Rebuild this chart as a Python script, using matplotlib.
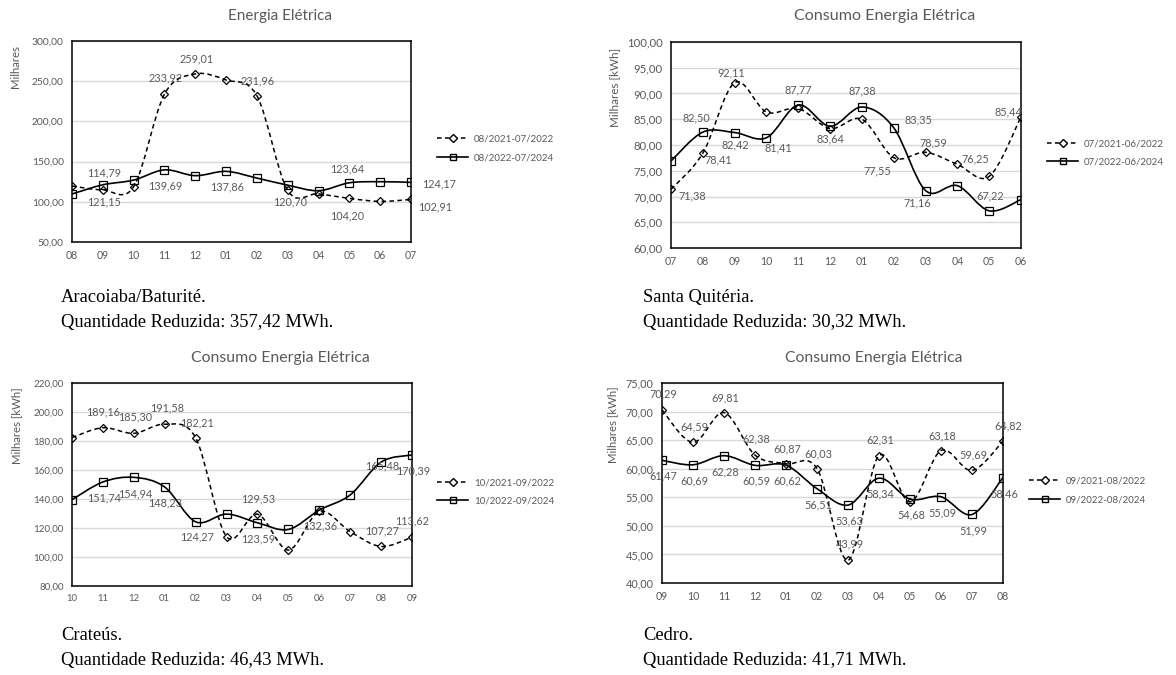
import numpy as np
import matplotlib
matplotlib.use("Agg")
import matplotlib.pyplot as plt
from matplotlib.path import Path
from matplotlib.patches import PathPatch
from matplotlib.lines import Line2D

plt.rcParams['font.family'] = ['Lato', 'DejaVu Sans']

# ---- data ----
months_1 = ['08', '09', '10', '11', '12', '01', '02', '03', '04', '05', '06', '07']
aracoiaba_old = [119.6, 114.79, 118.8, 233.92, 259.01, 251.5, 231.96, 114.2, 110.0, 104.20, 100.5, 102.91]
aracoiaba_new = [109.7, 121.15, 127.0, 139.69, 132.5, 137.86, 129.5, 120.70, 113.8, 123.64, 125.0, 124.17]

months_2 = ['07', '08', '09', '10', '11', '12', '01', '02', '03', '04', '05', '06']
quiteria_old = [71.38, 78.41, 92.11, 86.4, 87.1, 83.2, 85.0, 77.55, 78.59, 76.25, 73.9, 85.44]
quiteria_new = [76.9, 82.50, 82.42, 81.41, 87.77, 83.64, 87.38, 83.35, 71.16, 72.1, 67.22, 69.4]

months_3 = ['10', '11', '12', '01', '02', '03', '04', '05', '06', '07', '08', '09']
crateus_old = [182.4, 189.16, 185.30, 191.58, 182.21, 114.0, 129.53, 104.8, 131.4, 117.5, 107.27, 113.62]
crateus_new = [139.5, 151.74, 154.94, 148.23, 124.27, 129.6, 123.59, 119.0, 132.36, 142.8, 165.48, 170.39]

months_4 = ['09', '10', '11', '12', '01', '02', '03', '04', '05', '06', '07', '08']
cedro_old = [70.29, 64.59, 69.81, 62.38, 60.87, 60.03, 43.99, 62.31, 54.2, 63.18, 59.69, 64.82]
cedro_new = [61.47, 60.69, 62.28, 60.59, 60.62, 56.51, 53.63, 58.34, 54.68, 55.09, 51.99, 58.46]

# which points carry a data label (index -> label offset in pixels, up positive)
lab1_old = {1: (1, 17), 3: (1, 16), 4: (1, 15), 6: (1, 15), 9: (-2, -17), 11: (24, -7)}
lab1_new = {1: (1, -17), 3: (1, -16), 5: (1, -16), 7: (2, -17), 9: (-2, 14), 11: (28, -2)}
lab2_old = {0: (21, -7), 1: (15, -7), 2: (-3, 10), 7: (-16, -13), 8: (8, 9), 9: (18, 5), 11: (-13, 5)}
lab2_new = {1: (-6, 14), 2: (1, -12), 3: (12, -10), 4: (0, 15), 5: (0, -13), 6: (0, 16),
            7: (25, 8), 8: (-8, -12), 10: (1, 15)}
lab3_old = {1: (0, 16), 2: (1, 16), 3: (2, 16), 4: (1, 15), 6: (1, 15), 10: (1, 16), 11: (0, 16)}
lab3_new = {1: (1, -16), 2: (1, -17), 3: (0, -16), 4: (1, -15), 6: (1, -16), 8: (1, -16),
            10: (1, -4), 11: (1, -16)}
lab4_old = {0: (1, 16), 1: (1, 16), 2: (1, 15), 3: (1, 16), 4: (1, 15), 5: (1, 15), 6: (2, 16),
            7: (1, 16), 9: (1, 15), 10: (1, 16), 11: (5, 15)}
lab4_new = {i: (1, -16) for i in range(12)}

GRAY = '#595959'
W, H = 1176, 675


def fx(px):
    return px / W


def fy(py):
    return 1 - py / H


def smooth_path(x, y):
    # excel-like smoothed line (catmull-rom as cubic bezier)
    P = np.column_stack([x, y]).astype(float)
    n = len(P)
    verts = [P[0]]
    codes = [Path.MOVETO]
    for i in range(n - 1):
        p0 = P[i - 1] if i > 0 else P[i]
        p1, p2 = P[i], P[i + 1]
        p3 = P[i + 2] if i + 2 < n else P[i + 1]
        verts += [p1 + (p2 - p0) / 6, p2 - (p3 - p1) / 6, p2]
        codes += [Path.CURVE4] * 3
    return Path(verts, codes)


def fmt(v):
    return f"{v:.2f}".replace('.', ',')


def draw_panel(box, months, old, new, lab_old, lab_new, ylim, ystep, title, title_xy,
               ylabel, ylabel_xy, leg_names, leg_xy, caption, cap_x, cap_y,
               ytick_fs, xtick_fs, ylab_fs, title_fs):
    l, r, t, b = box
    ax = fig.add_axes([fx(l), fy(b), fx(r) - fx(l), fy(t) - fy(b)])
    x = np.arange(len(months))
    dash = (0, (3, 2.2))
    ax.add_patch(PathPatch(smooth_path(x, old), fill=False, ec='black', lw=1.1, ls=dash, zorder=3))
    ax.add_patch(PathPatch(smooth_path(x, new), fill=False, ec='black', lw=1.2, zorder=3))
    ax.plot(x, old, ls='none', marker='D', ms=4.5, mfc='none', mec='black', mew=0.9, zorder=4)
    ax.plot(x, new, ls='none', marker='s', ms=5.2, mfc='none', mec='black', mew=0.9, zorder=4)

    for vals, labs in ((old, lab_old), (new, lab_new)):
        for i, (dx, dy) in labs.items():
            ax.annotate(fmt(vals[i]), (x[i], vals[i]), xytext=(dx, dy), textcoords='offset pixels',
                        ha='center', va='center', fontsize=7.8, color=GRAY, zorder=5,
                        annotation_clip=False)

    ax.set_xlim(0, len(months) - 1)
    ax.set_ylim(*ylim)
    yt = np.arange(ylim[0], ylim[1] + ystep / 2, ystep)
    ax.set_yticks(yt)
    ax.set_yticklabels([fmt(v) for v in yt], fontsize=ytick_fs, color=GRAY)
    ax.set_xticks(x)
    ax.set_xticklabels(months, fontsize=xtick_fs, color=GRAY)
    ax.tick_params(length=0, pad=6)
    ax.grid(axis='y', color='#d9d9d9', lw=1)
    ax.set_axisbelow(True)
    for s in ax.spines.values():
        s.set_linewidth(1.1)
        s.set_color('black')

    fig.text(fx(title_xy[0]), fy(title_xy[1]), title, ha='center', va='center',
             fontsize=title_fs, color=GRAY)
    fig.text(fx(ylabel_xy[0]), fy(ylabel_xy[1]), ylabel, rotation=90, ha='center', va='center',
             fontsize=ylab_fs, color=GRAY)

    handles = [Line2D([], [], color='black', lw=1.1, ls=dash, marker='D', ms=3.6, mfc='white', mec='black'),
               Line2D([], [], color='black', lw=1.2, marker='s', ms=4.5, mfc='none', mec='black')]
    fig.legend(handles, leg_names, loc='center left', bbox_to_anchor=(fx(leg_xy[0]), fy(leg_xy[1])),
               frameon=False, fontsize=7, labelcolor=GRAY, handlelength=3.2, handletextpad=0.6,
               labelspacing=1.0, borderpad=0, borderaxespad=0)

    for k, line in enumerate(caption):
        fig.text(fx(cap_x), fy(cap_y[k]), line, ha='left', va='baseline', fontsize=13.3,
                 family='Liberation Serif', color='black')
    return ax


fig = plt.figure(figsize=(W / 100, H / 100), dpi=100)

draw_panel((72, 411, 41, 242), months_1, aracoiaba_old, aracoiaba_new, lab1_old, lab1_new,
           (50, 300), 50, 'Energia Elétrica', (280, 16), 'Milhares', (15, 66),
           ['08/2021-07/2022', '08/2022-07/2024'], (437, 148.5),
           ['Aracoiaba/Baturité.', 'Quantidade Reduzida: 357,42 MWh.'], 61, (302, 327),
           7.4, 7.6, 8.2, 11.0)

draw_panel((671, 1021, 42, 248), months_2, quiteria_old, quiteria_new, lab2_old, lab2_new,
           (60, 100), 5, 'Consumo Energia Elétrica', (885, 16), 'Milhares [kWh]', (615, 87),
           ['07/2021-06/2022', '07/2022-06/2024'], (1047, 153),
           ['Santa Quitéria.', 'Quantidade Reduzida: 30,32 MWh.'], 643, (302, 327),
           8.2, 7.6, 8.4, 11.6)

draw_panel((72, 412, 383, 586), months_3, crateus_old, crateus_new, lab3_old, lab3_new,
           (80, 220), 20, 'Consumo Energia Elétrica', (280, 358), 'Milhares [kWh]', (17, 426),
           ['10/2021-09/2022', '10/2022-09/2024'], (437, 492),
           ['Crateús.', 'Quantidade Reduzida: 46,43 MWh.'], 61, (640, 665),
           7.0, 6.8, 8.2, 11.4)

draw_panel((662, 1003, 383, 583), months_4, cedro_old, cedro_new, lab4_old, lab4_new,
           (40, 75), 5, 'Consumo Energia Elétrica', (874, 358), 'Milhares [kWh]', (613, 425),
           ['09/2021-08/2022', '09/2022-08/2024'], (1029, 490.5),
           ['Cedro.', 'Quantidade Reduzida: 41,71 MWh.'], 643, (640, 665),
           7.8, 7.6, 8.2, 11.3)

fig.savefig('out.png', dpi=100)
